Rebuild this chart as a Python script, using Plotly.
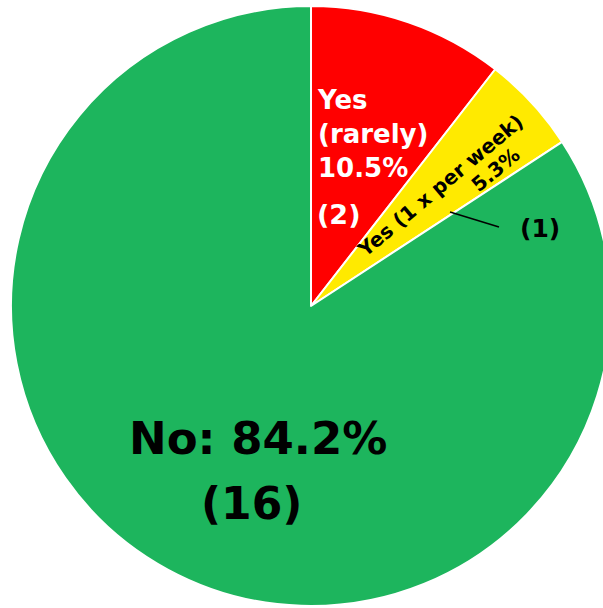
import plotly.graph_objects as go

# Data
categories = ["Yes (rarely)", "Yes (1 x per week)", "No"]
counts = [2, 1, 16]
slice_colors = ["#FF0000", "#FFEA00", "#1DB55D"]

W, H = 620, 608
total = sum(counts)
pcts = [c / total * 100 for c in counts]

FONT = "DejaVu Sans"

fig = go.Figure(
    go.Pie(
        labels=categories,
        values=counts,
        sort=False,
        direction="clockwise",
        rotation=0,
        marker=dict(colors=slice_colors, line=dict(color="white", width=2)),
        textinfo="none",
        hoverinfo="label+value+percent",
        domain=dict(x=[11 / W, 611 / W], y=[2 / H, 602 / H]),
    )
)


def px(x):
    return x / W


def py(y):
    return 1 - y / H


annotations = [
    dict(text=f"Yes<br>(rarely)<br>{pcts[0]:.1f}%", x=px(315), y=py(134),
         xanchor="left", yanchor="middle", align="left",
         font=dict(family=FONT, size=26, color="white", weight="bold")),
    dict(text=f"({counts[0]})", x=px(315), y=py(214),
         xanchor="left", yanchor="middle",
         font=dict(family=FONT, size=27, color="white", weight="bold")),
    dict(text="Yes (1 x per week)", x=px(440), y=py(186), textangle=-40,
         xanchor="center", yanchor="middle",
         font=dict(family=FONT, size=20, color="black", weight="bold")),
    dict(text=f"{pcts[1]:.1f}%", x=px(495), y=py(170), textangle=-40,
         xanchor="center", yanchor="middle",
         font=dict(family=FONT, size=20, color="black", weight="bold")),
    dict(text=f"({counts[1]})", x=px(518), y=py(228),
         xanchor="left", yanchor="middle",
         font=dict(family=FONT, size=25, color="black", weight="bold")),
    dict(text=f"No: {pcts[2]:.1f}%", x=px(258), y=py(438),
         xanchor="center", yanchor="middle",
         font=dict(family=FONT, size=45, color="black", weight="bold")),
    dict(text=f"({counts[2]})", x=px(251), y=py(503),
         xanchor="center", yanchor="middle",
         font=dict(family=FONT, size=44, color="black", weight="bold")),
]
for a in annotations:
    a.update(xref="paper", yref="paper", showarrow=False)

fig.update_layout(
    width=W, height=H,
    margin=dict(l=0, r=0, t=0, b=0),
    paper_bgcolor="white",
    plot_bgcolor="white",
    showlegend=False,
    annotations=annotations,
    shapes=[dict(type="line", xref="paper", yref="paper",
                 x0=px(450), y0=py(212), x1=px(499), y1=py(227),
                 line=dict(color="black", width=1.5))],
)

fig.write_html(
    "out.html",
    config={"displayModeBar": False},
    post_script="document.body.style.margin='0';"
                "document.body.style.overflow='hidden';"
                "document.documentElement.style.overflow='hidden';",
)
